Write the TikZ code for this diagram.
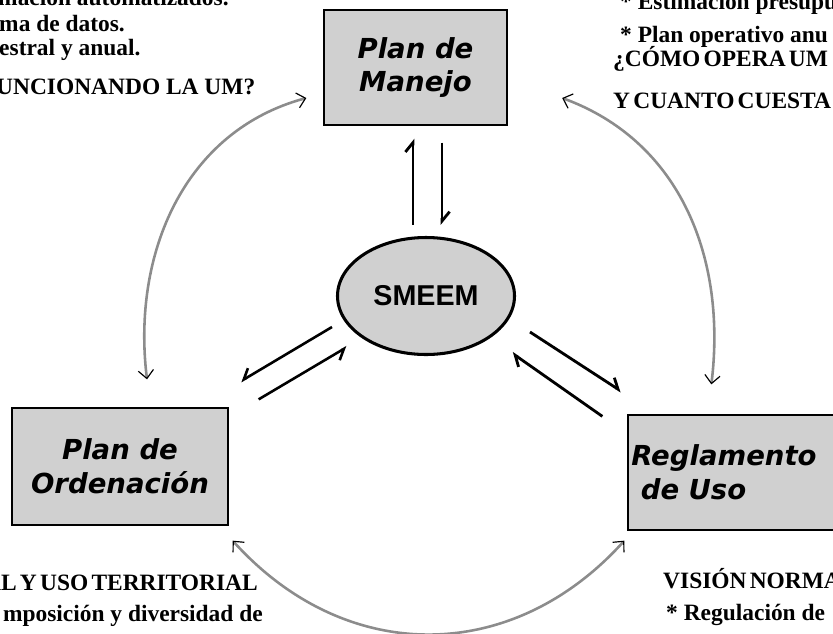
\documentclass[tikz,border=0pt]{standalone}
\usepackage{fontspec}
\setmainfont{Liberation Serif}
\newfontfamily\boxfont{DejaVu Sans}
\newfontfamily\ovalfont{Liberation Sans}
\newfontfamily\tightfont{Liberation Serif}[WordSpace=0.55]
\usepackage{tikz}
\usetikzlibrary{arrows.meta,shapes.geometric}
\definecolor{boxgray}{HTML}{D0D0D0}
\definecolor{arcgray}{HTML}{8C8C8C}

\begin{document}
\begin{tikzpicture}[
  x=0.03cm, y=-0.03cm,
  plan/.style={rectangle, draw, line width=1.1pt, fill=boxgray,
    inner sep=0pt, align=center,
    font=\boxfont\bfseries\itshape\fontsize{23.5}{29}\selectfont},
  oval/.style={ellipse, draw, line width=2.6pt, fill=boxgray, inner sep=0pt,
    minimum width=5.31cm, minimum height=3.51cm,
    font=\ovalfont\bfseries\fontsize{24.5}{28}\selectfont},
  note/.style={anchor=base west, inner sep=0pt,
    font=\bfseries\fontsize{20}{23}\selectfont},
  tight/.style={note, font=\tightfont\bfseries\fontsize{20}{23}\selectfont},
  link/.style={line width=2.4pt,
    -{Straight Barb[harpoon, length=8pt, width=13pt]}},
  swaplink/.style={line width=2.2pt,
    -{Straight Barb[harpoon, swap, length=8pt, width=13pt]}},
  ring/.style={arcgray, line width=2.2pt,
    {Straight Barb[black, line width=1pt, length=7pt, width=13pt]}-{Straight Barb[black, line width=1pt, length=7pt, width=13pt]}}
]
\useasboundingbox (0,0) rectangle (833,633);
\clip (0,0) rectangle (833,633);

% the three plans and the monitoring system
\node[plan, minimum width=5.49cm, minimum height=3.45cm] (manejo) at (415.5,67.5) {Plan de\\Manejo};
\node[plan, minimum width=6.48cm, minimum height=3.51cm] (ordenacion) at (120,466.5) {Plan de\\Ordenación};
\node[plan, text width=6.4cm, inner xsep=0.1cm, minimum height=3.45cm, align=left] (reglamento) at (738,472.5) {Reglamento\\\hspace*{0.35em}de Uso};
\node[oval] (smeem) at (426,296) {SMEEM};

% exchanges with SMEEM
\draw[link] ([shift={(-13,-11)}]smeem.north) -- ([shift={(-2.5,13)}]manejo.south);
\draw[link] ([shift={(26.5,17)}]manejo.south) -- ([shift={(16,-11)}]smeem.north);
\draw[swaplink] ([shift={(-94,31)}]smeem.center) -- ([shift={(12,-26)}]ordenacion.north east);
\draw[swaplink] ([shift={(30,-8)}]ordenacion.north east) -- ([shift={(-79,51)}]smeem.center);
\draw[link] ([shift={(104,36)}]smeem.center) -- ([shift={(-6,-23)}]reglamento.north west);
\draw[link] ([shift={(-25,2)}]reglamento.north west) -- ([shift={(86,57)}]smeem.center);

% outer cycle
\draw[ring] ([shift={(27,-28)}]ordenacion.north) to[out=97, in=195] ([shift={(-17,30.5)}]manejo.west);
\draw[ring] ([shift={(84,-30)}]reglamento.north west) to[out=83, in=-20] ([shift={(54.5,30.5)}]manejo.east);
\draw[ring] ([shift={(4,15)}]ordenacion.south east) to[out=-48, in=-132, looseness=1.1] ([shift={(-3,10)}]reglamento.south west);

% notes cut by the frame
\node[note] (topA) at (-2,5) {mación automatizados.};
\node[note] (topB) at (-1,31) {ma de datos.};
\node[note] (topC) at (-1,55) {estral y anual.};
\node[note] (topD) at (-4,94) {UNCIONANDO LA UM?};
\node[note] (topE) at (620,9) {* Estimación presupu};
\node[note] (topF) at (620,42) {* Plan operativo anu};
\node[tight] (topG) at (613,66) {¿CÓMO OPERA UM};
\node[tight] (topH) at (613,108) {Y CUANTO CUESTA};
\node[tight, anchor=base east] (botA) at (258,590) {AL Y USO TERRITORIAL};
\node[note, anchor=base east] (botB) at (263,621) {mposición y diversidad de};
\node[tight] (botC) at (663,588) {VISIÓN NORMA};
\node[note] (botD) at (666,620) {* Regulación de};
\end{tikzpicture}
\end{document}
